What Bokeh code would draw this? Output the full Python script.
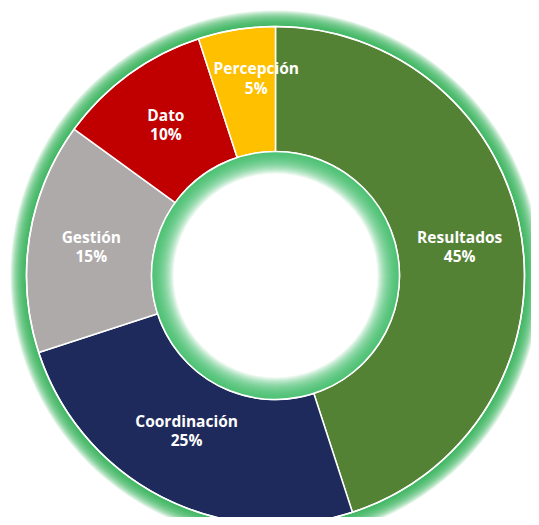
import math
from bokeh.plotting import figure
from bokeh.models import Range1d, ColumnDataSource
from bokeh.core.properties import value
from bokeh.embed import file_html
from bokeh.resources import INLINE

categories = ["Resultados", "Coordinación", "Gestión", "Dato", "Percepción"]
shares = [45, 25, 15, 10, 5]
colors = ["#548235", "#1F2A5C", "#AEAAAA", "#C00000", "#FFC000"]

R_OUT = 249
R_IN = 124

W, H = 531, 517
cx_px, cy_px = 275, 275
p = figure(width=W, height=H, output_backend="svg", toolbar_location=None,
           x_range=Range1d(-cx_px, W - cx_px), y_range=Range1d(-(H - cy_px), cy_px),
           min_border=0, outline_line_color=None)
p.axis.visible = False
p.grid.visible = False
p.background_fill_color = "white"
p.border_fill_color = "white"

# outer glow: stacked translucent rings, denser near the ring edge
n_out = 16
for k in range(n_out, 0, -1):
    p.annulus(x=0, y=0, inner_radius=R_OUT - 3, outer_radius=R_OUT + k,
              fill_color="#2DB553", fill_alpha=0.13, line_color=None)

total = sum(shares)
starts, ends, mids = [], [], []
cum = 0
for s in shares:
    a0 = math.pi / 2 - 2 * math.pi * cum / total
    cum += s
    a1 = math.pi / 2 - 2 * math.pi * cum / total
    starts.append(a0)
    ends.append(a1)
    mids.append((a0 + a1) / 2)

src = ColumnDataSource(dict(cat=categories, start=starts, end=ends, color=colors))
p.annular_wedge(x=0, y=0, inner_radius=R_IN, outer_radius=R_OUT,
                start_angle="start", end_angle="end", direction="clock",
                fill_color="color", line_color="white", line_width=1.5, source=src)

# inner glow: stacked translucent rings inside the hole
n_in = 22
for k in range(1, n_in + 1):
    p.annulus(x=0, y=0, inner_radius=R_IN - k, outer_radius=R_IN,
              fill_color="#3CBE64", fill_alpha=0.09, line_color=None)
p.circle(x=0, y=0, radius=R_IN, fill_color=None, line_color="white", line_width=1.5)
p.circle(x=0, y=0, radius=R_OUT, fill_color=None, line_color="white", line_width=1.5)

r_lab = (R_IN + R_OUT) / 2
lab_r = [r_lab, r_lab - 8, r_lab, r_lab, r_lab + 12]
lab_da = [0, -0.05, 0, 0, -0.06]
lx = [r * math.cos(m + d) for r, m, d in zip(lab_r, mids, lab_da)]
ly = [r * math.sin(m + d) for r, m, d in zip(lab_r, mids, lab_da)]
labels = [f"{c}\n{s}%" for c, s in zip(categories, shares)]
p.text(x=lx, y=ly, text=labels, text_align="center", text_baseline="middle",
       text_color="white", text_font=value("Open Sans"), text_font_style="bold",
       text_font_size="15.5px", text_line_height=0.88)

open("out.html", "w").write(file_html(p, INLINE))
